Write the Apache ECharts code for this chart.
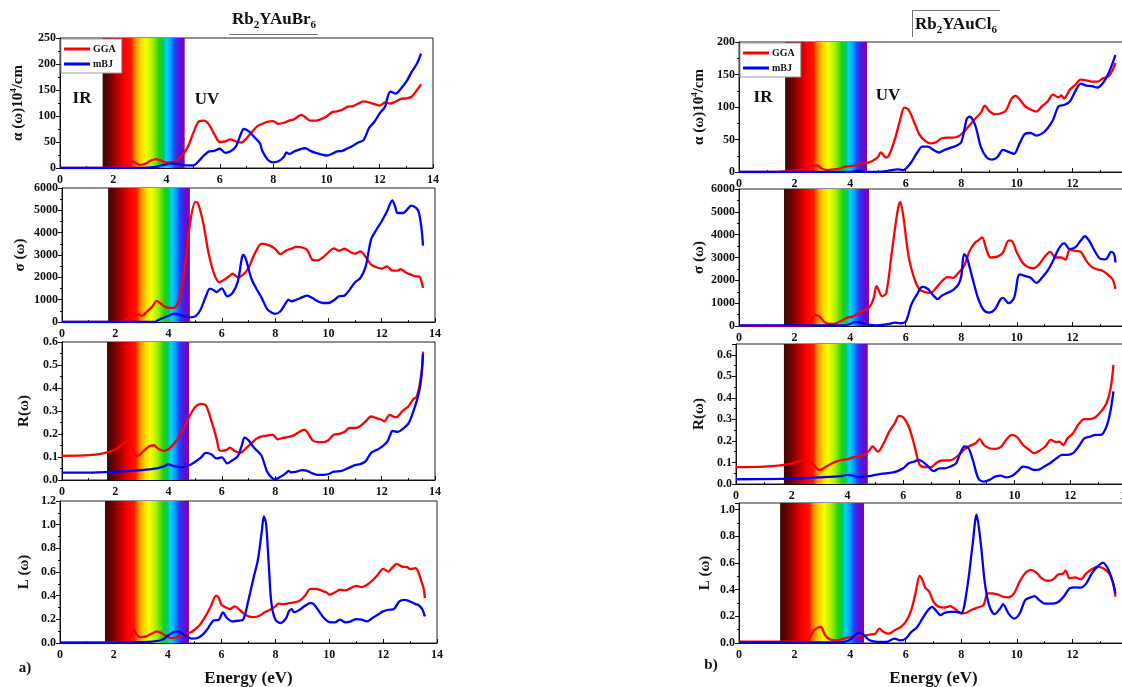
<!DOCTYPE html>
<html>
<head>
<meta charset="utf-8">
<title>Rb2YAuBr6 / Rb2YAuCl6 optical spectra</title>
<script src="https://cdn.jsdelivr.net/npm/echarts@6/dist/echarts.min.js"></script>
<style>
  html, body { margin: 0; padding: 0; background: #ffffff; }
  #chart { width: 1122px; height: 687px; }
</style>
</head>
<body>
<div id="chart"></div>
<script>
// ---------- Energy axis ticks (eV) ----------
const energyTicks = [0, 2, 4, 6, 8, 10, 12, 14];

// ---------- Rb2YAuBr6 : absorption α (10^4 /cm) ----------
const brAbsGGA = [[0,0],[1.6,0],[2.2,1],[2.5,6],[2.7,13],[3.0,6],[3.2,8],[3.4,14],[3.6,17],[3.8,14],[4.0,11],[4.2,11],[4.4,16],[4.6,25],[4.8,41],[5.0,67],[5.2,89],[5.4,91],[5.6,83],[5.8,64],[6.0,50],[6.2,51],[6.4,55],[6.6,51],[6.8,49],[7.0,57],[7.2,69],[7.4,80],[7.6,85],[7.8,89],[8.0,90],[8.2,85],[8.4,87],[8.6,91],[8.8,94],[9.05,102],[9.2,98],[9.4,91],[9.6,91],[9.8,94],[10.0,99],[10.2,107],[10.4,109],[10.6,112],[10.8,118],[11.0,119],[11.2,124],[11.4,128],[11.6,126],[11.8,123],[12.0,120],[12.2,126],[12.4,124],[12.6,128],[12.8,133],[13.0,134],[13.2,137],[13.4,150],[13.55,161]];
const brAbsMBJ = [[0,0],[3.0,0],[3.6,2],[3.8,5],[4.0,7],[4.2,9],[4.4,8],[4.6,6],[4.8,5],[5.0,5],[5.2,13],[5.4,24],[5.6,32],[5.8,33],[6.0,37],[6.2,29],[6.4,32],[6.6,41],[6.8,67],[6.9,75],[7.1,70],[7.3,59],[7.5,48],[7.6,32],[7.8,16],[8.0,11],[8.2,13],[8.4,21],[8.5,30],[8.6,27],[8.8,32],[9.0,36],[9.2,38],[9.4,33],[9.6,29],[9.8,26],[10.0,24],[10.2,27],[10.4,32],[10.6,33],[10.8,38],[11.0,43],[11.2,49],[11.4,54],[11.6,77],[11.8,89],[12.0,105],[12.2,118],[12.3,137],[12.4,147],[12.6,143],[12.8,153],[13.0,166],[13.2,185],[13.4,201],[13.55,220]];

// ---------- Rb2YAuBr6 : optical conductivity σ ----------
const brCondGGA = [[0,0],[1.7,0],[2.3,40],[2.7,300],[2.9,330],[3.0,280],[3.2,480],[3.4,700],[3.55,950],[3.8,730],[4.0,630],[4.2,630],[4.4,1000],[4.6,2340],[4.8,4360],[5.0,5370],[5.1,5330],[5.3,4430],[5.5,3090],[5.7,2190],[5.9,1780],[6.1,1900],[6.3,2070],[6.4,2160],[6.6,2010],[6.8,2120],[7.0,2420],[7.2,2970],[7.5,3510],[7.8,3420],[8.0,3270],[8.2,3040],[8.4,3190],[8.6,3280],[8.8,3360],[9.0,3340],[9.2,3240],[9.4,2790],[9.6,2760],[9.8,2900],[10.0,3120],[10.2,3300],[10.4,3190],[10.6,3280],[10.8,3150],[11.0,3060],[11.2,3160],[11.4,2910],[11.6,2570],[11.8,2450],[12.0,2390],[12.2,2490],[12.4,2300],[12.6,2300],[12.7,2370],[12.9,2220],[13.1,2120],[13.3,2040],[13.4,2040],[13.5,1790],[13.55,1520]];
const brCondMBJ = [[0,0],[3.5,0],[3.6,80],[3.8,180],[4.0,280],[4.2,370],[4.4,330],[4.6,250],[4.8,210],[5.0,250],[5.2,550],[5.4,1150],[5.55,1490],[5.7,1420],[5.8,1340],[6.0,1510],[6.2,1150],[6.4,1300],[6.6,1820],[6.75,2870],[6.8,3000],[6.9,2820],[7.1,1970],[7.3,1480],[7.5,1070],[7.7,580],[7.9,400],[8.0,360],[8.2,480],[8.4,850],[8.5,1000],[8.6,930],[8.8,1000],[9.0,1100],[9.2,1180],[9.4,1070],[9.6,930],[9.8,850],[10.0,850],[10.2,970],[10.4,1150],[10.6,1180],[10.8,1450],[11.0,1780],[11.2,1970],[11.4,2490],[11.6,3690],[11.8,4130],[12.0,4510],[12.2,4960],[12.4,5450],[12.5,5180],[12.6,4880],[12.8,4880],[13.0,5100],[13.1,5210],[13.3,5100],[13.4,4880],[13.5,4130],[13.55,3420]];

// ---------- Rb2YAuBr6 : reflectivity R ----------
const brReflGGA = [[0,0.105],[1.0,0.108],[1.5,0.115],[2.0,0.132],[2.3,0.158],[2.5,0.17],[2.7,0.12],[2.8,0.104],[2.9,0.108],[3.1,0.13],[3.3,0.148],[3.45,0.151],[3.6,0.137],[3.8,0.127],[4.0,0.134],[4.2,0.158],[4.4,0.187],[4.6,0.233],[4.8,0.28],[5.0,0.317],[5.2,0.331],[5.4,0.324],[5.6,0.259],[5.8,0.18],[5.9,0.13],[6.0,0.127],[6.2,0.132],[6.3,0.141],[6.5,0.125],[6.7,0.118],[6.9,0.137],[7.1,0.158],[7.3,0.18],[7.5,0.19],[7.7,0.193],[7.9,0.197],[8.1,0.177],[8.3,0.183],[8.5,0.187],[8.7,0.194],[8.9,0.209],[9.1,0.219],[9.2,0.209],[9.4,0.173],[9.6,0.165],[9.8,0.165],[10.0,0.173],[10.2,0.197],[10.4,0.201],[10.6,0.209],[10.8,0.226],[11.0,0.226],[11.2,0.235],[11.4,0.255],[11.6,0.276],[11.8,0.269],[12.0,0.262],[12.1,0.255],[12.3,0.283],[12.5,0.273],[12.6,0.276],[12.8,0.302],[13.0,0.32],[13.2,0.353],[13.3,0.36],[13.4,0.4],[13.5,0.475],[13.55,0.558]];
const brReflMBJ = [[0,0.032],[1.0,0.032],[2.0,0.036],[3.0,0.043],[3.5,0.049],[3.8,0.058],[4.0,0.068],[4.2,0.06],[4.5,0.055],[4.8,0.065],[5.0,0.079],[5.2,0.096],[5.4,0.118],[5.6,0.112],[5.8,0.094],[6.0,0.098],[6.2,0.072],[6.4,0.086],[6.6,0.104],[6.75,0.151],[6.85,0.184],[7.0,0.173],[7.2,0.141],[7.4,0.118],[7.5,0.104],[7.7,0.036],[7.9,0.007],[8.0,0.003],[8.2,0.014],[8.4,0.029],[8.5,0.04],[8.6,0.033],[8.8,0.036],[9.0,0.043],[9.2,0.04],[9.4,0.029],[9.6,0.022],[9.8,0.022],[10.0,0.026],[10.2,0.036],[10.5,0.04],[10.8,0.055],[11.0,0.065],[11.2,0.069],[11.4,0.082],[11.6,0.118],[11.8,0.13],[12.0,0.144],[12.2,0.165],[12.3,0.19],[12.4,0.213],[12.6,0.209],[12.8,0.223],[13.0,0.245],[13.2,0.302],[13.4,0.381],[13.5,0.46],[13.55,0.547]];

// ---------- Rb2YAuBr6 : energy loss L ----------
const brLossGGA = [[0,0.005],[1.6,0.005],[2.3,0.01],[2.6,0.05],[2.75,0.112],[2.85,0.07],[3.0,0.05],[3.2,0.056],[3.4,0.079],[3.6,0.098],[3.8,0.079],[4.0,0.05],[4.2,0.042],[4.4,0.056],[4.6,0.07],[4.8,0.084],[5.0,0.112],[5.2,0.155],[5.4,0.225],[5.6,0.309],[5.8,0.4],[5.9,0.38],[6.0,0.323],[6.2,0.295],[6.3,0.287],[6.5,0.309],[6.6,0.295],[6.8,0.253],[7.0,0.225],[7.2,0.219],[7.4,0.23],[7.6,0.259],[7.8,0.281],[8.0,0.309],[8.1,0.332],[8.3,0.329],[8.5,0.337],[8.7,0.343],[8.9,0.357],[9.1,0.4],[9.3,0.458],[9.5,0.458],[9.7,0.444],[9.9,0.427],[10.0,0.408],[10.2,0.427],[10.4,0.45],[10.6,0.444],[10.8,0.464],[11.0,0.483],[11.2,0.472],[11.4,0.492],[11.6,0.528],[11.8,0.576],[12.0,0.627],[12.2,0.604],[12.3,0.627],[12.5,0.669],[12.7,0.646],[12.9,0.641],[13.0,0.624],[13.2,0.632],[13.3,0.604],[13.4,0.534],[13.5,0.464],[13.55,0.379]];
const brLossMBJ = [[0,0],[2.0,0],[2.2,0.005],[3.0,0.008],[3.5,0.014],[3.8,0.028],[4.0,0.062],[4.2,0.09],[4.35,0.098],[4.5,0.084],[4.7,0.056],[4.9,0.037],[5.1,0.042],[5.3,0.07],[5.5,0.126],[5.7,0.191],[5.9,0.197],[6.05,0.259],[6.2,0.211],[6.4,0.183],[6.6,0.188],[6.8,0.197],[7.0,0.365],[7.2,0.562],[7.35,0.703],[7.5,0.956],[7.57,1.07],[7.65,1.012],[7.75,0.675],[7.85,0.337],[8.0,0.197],[8.2,0.169],[8.4,0.211],[8.5,0.267],[8.6,0.287],[8.7,0.259],[8.9,0.281],[9.1,0.315],[9.3,0.337],[9.4,0.332],[9.6,0.275],[9.8,0.211],[10.0,0.177],[10.2,0.174],[10.4,0.197],[10.6,0.174],[10.8,0.183],[11.0,0.202],[11.2,0.197],[11.4,0.183],[11.6,0.211],[11.8,0.239],[12.0,0.267],[12.2,0.281],[12.4,0.287],[12.6,0.351],[12.8,0.365],[13.0,0.351],[13.2,0.329],[13.3,0.323],[13.45,0.287],[13.55,0.225]];

// ---------- Rb2YAuCl6 : absorption α (10^4 /cm) ----------
const clAbsGGA = [[0,0],[1.2,0],[1.6,1],[2.2,3],[2.6,10],[2.8,10],[3.0,5],[3.2,3],[3.4,4],[3.6,5],[3.8,8],[4.0,9],[4.2,10],[4.4,13],[4.6,14],[4.8,17],[5.0,23],[5.1,30],[5.3,22],[5.4,26],[5.6,49],[5.8,80],[5.95,99],[6.1,96],[6.3,77],[6.5,57],[6.7,48],[6.9,44],[7.1,46],[7.3,52],[7.5,53],[7.7,53],[7.9,55],[8.1,62],[8.3,72],[8.5,82],[8.7,91],[8.85,102],[9.0,94],[9.2,89],[9.4,90],[9.6,94],[9.8,112],[9.95,117],[10.1,112],[10.3,101],[10.5,96],[10.7,93],[10.9,101],[11.1,108],[11.3,119],[11.5,115],[11.6,118],[11.7,113],[11.9,126],[12.1,134],[12.3,142],[12.5,141],[12.7,139],[12.9,139],[13.1,144],[13.3,147],[13.45,157],[13.55,168]];
const clAbsMBJ = [[0,0],[4.0,0],[4.3,2],[4.6,0],[5.0,0],[5.5,3],[5.7,4],[5.9,3],[6.0,5],[6.2,15],[6.4,29],[6.6,39],[6.8,39],[7.0,34],[7.2,30],[7.4,34],[7.6,37],[7.8,40],[8.0,46],[8.2,82],[8.3,85],[8.5,72],[8.7,39],[8.9,23],[9.1,19],[9.3,23],[9.5,34],[9.7,31],[9.9,28],[10.1,44],[10.3,59],[10.5,60],[10.7,56],[10.9,59],[11.1,67],[11.3,80],[11.5,101],[11.7,103],[11.9,108],[12.1,124],[12.3,136],[12.5,133],[12.7,132],[12.9,130],[13.1,137],[13.3,152],[13.45,168],[13.55,180]];

// ---------- Rb2YAuCl6 : optical conductivity σ ----------
const clCondGGA = [[0,0],[2.4,0],[2.6,300],[2.75,490],[2.9,410],[3.1,150],[3.3,90],[3.5,120],[3.7,240],[3.9,370],[4.1,410],[4.3,560],[4.5,680],[4.7,830],[4.85,1230],[4.95,1740],[5.15,1300],[5.3,1450],[5.5,3220],[5.7,4990],[5.8,5440],[5.9,4920],[6.1,3070],[6.3,2110],[6.5,1600],[6.7,1480],[6.9,1450],[7.1,1670],[7.3,1960],[7.5,2140],[7.7,2110],[7.9,2330],[8.1,2630],[8.3,3290],[8.5,3660],[8.6,3740],[8.75,3880],[8.9,3370],[9.05,3000],[9.3,3040],[9.5,3220],[9.7,3740],[9.8,3740],[10.0,3220],[10.2,2780],[10.4,2580],[10.6,2530],[10.8,2700],[11.0,3030],[11.2,3250],[11.4,3000],[11.6,3000],[11.75,2900],[11.9,3340],[12.1,3290],[12.3,3250],[12.5,2850],[12.7,2580],[12.9,2480],[13.1,2410],[13.3,2220],[13.45,2040],[13.55,1620]];
const clCondMBJ = [[0,30],[3.8,30],[4.0,90],[4.2,180],[4.4,150],[4.6,70],[5.0,30],[5.4,90],[5.6,150],[5.8,120],[6.0,190],[6.2,930],[6.4,1370],[6.6,1710],[6.8,1620],[7.0,1330],[7.15,1180],[7.3,1330],[7.5,1450],[7.7,1570],[7.9,1820],[8.0,2190],[8.1,3150],[8.2,3000],[8.4,2110],[8.6,1230],[8.8,710],[9.0,590],[9.2,710],[9.4,1150],[9.5,1230],[9.7,1000],[9.9,1230],[10.1,2260],[10.3,2190],[10.5,2110],[10.7,1890],[10.9,2110],[11.1,2410],[11.3,2850],[11.5,3370],[11.7,3630],[11.9,3370],[12.1,3440],[12.3,3740],[12.45,3930],[12.6,3740],[12.8,3290],[13.0,2950],[13.2,2920],[13.4,3250],[13.5,3150],[13.55,2780]];

// ---------- Rb2YAuCl6 : reflectivity R ----------
const clReflGGA = [[0,0.078],[1.0,0.081],[1.5,0.085],[2.0,0.096],[2.5,0.112],[2.7,0.1],[3.0,0.065],[3.2,0.078],[3.5,0.099],[3.8,0.112],[4.0,0.115],[4.2,0.124],[4.4,0.13],[4.6,0.135],[4.8,0.158],[4.9,0.174],[5.1,0.15],[5.3,0.189],[5.5,0.243],[5.7,0.282],[5.85,0.316],[6.0,0.31],[6.2,0.267],[6.4,0.181],[6.5,0.127],[6.6,0.088],[6.8,0.078],[7.0,0.078],[7.2,0.099],[7.4,0.109],[7.6,0.109],[7.8,0.115],[8.0,0.135],[8.2,0.161],[8.4,0.177],[8.6,0.189],[8.75,0.208],[8.9,0.181],[9.1,0.166],[9.3,0.163],[9.5,0.171],[9.7,0.205],[9.9,0.228],[10.1,0.217],[10.3,0.181],[10.5,0.161],[10.7,0.143],[10.9,0.155],[11.1,0.174],[11.3,0.205],[11.5,0.194],[11.6,0.197],[11.75,0.181],[11.9,0.212],[12.1,0.236],[12.3,0.278],[12.5,0.301],[12.7,0.301],[12.9,0.31],[13.1,0.336],[13.3,0.375],[13.45,0.445],[13.55,0.553]];
const clReflMBJ = [[0,0.022],[2.0,0.025],[3.0,0.031],[3.8,0.037],[4.0,0.042],[4.2,0.039],[4.4,0.031],[4.8,0.037],[5.2,0.047],[5.6,0.053],[5.8,0.06],[6.0,0.073],[6.2,0.096],[6.4,0.104],[6.55,0.112],[6.7,0.104],[6.9,0.081],[7.1,0.06],[7.3,0.073],[7.5,0.073],[7.7,0.081],[7.9,0.096],[8.05,0.143],[8.2,0.174],[8.35,0.166],[8.5,0.112],[8.7,0.026],[8.9,0.011],[9.1,0.019],[9.3,0.034],[9.5,0.039],[9.7,0.031],[9.9,0.037],[10.1,0.057],[10.3,0.081],[10.5,0.076],[10.7,0.065],[10.9,0.068],[11.1,0.084],[11.3,0.099],[11.5,0.119],[11.7,0.135],[11.9,0.135],[12.1,0.143],[12.3,0.174],[12.5,0.212],[12.7,0.22],[12.9,0.228],[13.1,0.228],[13.3,0.267],[13.45,0.344],[13.55,0.43]];

// ---------- Rb2YAuCl6 : energy loss L ----------
const clLossGGA = [[0,0.01],[2.4,0.01],[2.6,0.06],[2.7,0.095],[2.85,0.116],[2.95,0.12],[3.1,0.058],[3.3,0.025],[3.5,0.02],[3.7,0.028],[3.9,0.04],[4.1,0.045],[4.3,0.058],[4.5,0.053],[4.7,0.063],[4.9,0.07],[5.05,0.108],[5.2,0.083],[5.4,0.07],[5.6,0.095],[5.8,0.116],[6.0,0.158],[6.2,0.246],[6.35,0.372],[6.5,0.503],[6.6,0.472],[6.7,0.415],[6.85,0.384],[7.0,0.309],[7.2,0.271],[7.4,0.266],[7.6,0.276],[7.8,0.251],[8.0,0.221],[8.2,0.229],[8.4,0.251],[8.6,0.266],[8.8,0.284],[8.95,0.372],[9.1,0.372],[9.3,0.364],[9.5,0.347],[9.7,0.342],[9.9,0.372],[10.1,0.46],[10.3,0.523],[10.5,0.548],[10.7,0.528],[10.9,0.485],[11.1,0.467],[11.3,0.477],[11.5,0.515],[11.65,0.518],[11.75,0.543],[11.9,0.485],[12.1,0.492],[12.3,0.477],[12.5,0.523],[12.7,0.553],[12.9,0.573],[13.1,0.56],[13.3,0.528],[13.45,0.46],[13.55,0.347]];
const clLossMBJ = [[0,0.005],[3.6,0.005],[3.8,0.008],[4.0,0.025],[4.2,0.065],[4.35,0.075],[4.5,0.058],[4.7,0.02],[5.0,0.008],[5.3,0.008],[5.6,0.033],[5.8,0.02],[6.0,0.033],[6.2,0.083],[6.4,0.116],[6.6,0.183],[6.8,0.246],[6.95,0.271],[7.1,0.241],[7.25,0.209],[7.4,0.226],[7.6,0.234],[7.8,0.234],[8.0,0.226],[8.2,0.397],[8.4,0.724],[8.55,0.962],[8.7,0.749],[8.85,0.447],[9.0,0.284],[9.2,0.216],[9.4,0.259],[9.5,0.291],[9.7,0.221],[9.9,0.183],[10.1,0.221],[10.3,0.322],[10.5,0.342],[10.65,0.352],[10.8,0.322],[11.0,0.296],[11.3,0.296],[11.5,0.309],[11.7,0.352],[11.9,0.41],[12.1,0.417],[12.3,0.415],[12.5,0.447],[12.7,0.523],[12.9,0.573],[13.1,0.603],[13.3,0.548],[13.45,0.46],[13.55,0.372]];

// ---------- visible-light window (eV) drawn in each panel ----------
const visibleBandBr = [[1.6, 4.68], [1.73, 4.8], [1.69, 4.77], [1.67, 4.79]];
const visibleBandCl = [[1.66, 4.61], [1.62, 4.68], [1.72, 4.73], [1.48, 4.5]];

// ---------- y-axis ranges and names ----------
const yMaxBr = [250, 6000, 0.6, 1.2];
const yStepBr = [50, 1000, 0.1, 0.2];
const yMaxCl = [200, 6000, 0.65, 1.05];
const yStepCl = [50, 1000, 0.1, 0.2];
const yDecimals = [0, 0, 1, 1];
const yNames = ['{a|α (ω)10}{p|4}{a|/cm}', 'σ (ω)', 'R(ω)', 'L (ω)'];

const seriesNames = ['GGA', 'mBJ'];
const seriesColors = ['#ff0000', '#0000ff'];

// ---------- drawing ----------
const SERIF = '"Liberation Serif", "Times New Roman", "DejaVu Serif", serif';
const chart = echarts.init(document.getElementById('chart'), null, { renderer: 'canvas' });

const spectrumGradient = () => new echarts.graphic.LinearGradient(0, 0, 1, 0, [
  { offset: 0.00, color: '#3a0808' },
  { offset: 0.08, color: '#6a0202' },
  { offset: 0.19, color: '#c00000' },
  { offset: 0.27, color: '#ff0000' },
  { offset: 0.35, color: '#ff1800' },
  { offset: 0.40, color: '#ff8c00' },
  { offset: 0.47, color: '#ffdc00' },
  { offset: 0.53, color: '#f4ff00' },
  { offset: 0.61, color: '#a8f000' },
  { offset: 0.69, color: '#22d400' },
  { offset: 0.74, color: '#00cc66' },
  { offset: 0.78, color: '#00d4ff' },
  { offset: 0.83, color: '#00a0ff' },
  { offset: 0.88, color: '#2244ff' },
  { offset: 0.93, color: '#5514e0' },
  { offset: 1.00, color: '#7c00b8' }
]);

// plot rectangles: [left, top, width, height]
const rectsBr = [[60, 38, 373, 130], [62, 188, 373, 134], [62, 342, 373, 138], [60, 501, 377, 142]];
const rectsCl = [[739, 42, 389, 130], [739, 189, 389, 137], [736, 344, 390, 140], [739, 503, 389, 140]];
const nameGapsBr = [33, 34, 30, 28];
const nameGapsCl = [31, 31, 29, 26];

const panels = [
  { rect: rectsBr[0], data: [brAbsGGA, brAbsMBJ], band: visibleBandBr[0], yMax: yMaxBr[0], yStep: yStepBr[0], k: 0, gap: nameGapsBr[0] },
  { rect: rectsBr[1], data: [brCondGGA, brCondMBJ], band: visibleBandBr[1], yMax: yMaxBr[1], yStep: yStepBr[1], k: 1, gap: nameGapsBr[1] },
  { rect: rectsBr[2], data: [brReflGGA, brReflMBJ], band: visibleBandBr[2], yMax: yMaxBr[2], yStep: yStepBr[2], k: 2, gap: nameGapsBr[2] },
  { rect: rectsBr[3], data: [brLossGGA, brLossMBJ], band: visibleBandBr[3], yMax: yMaxBr[3], yStep: yStepBr[3], k: 3, gap: nameGapsBr[3], xName: true },
  { rect: rectsCl[0], data: [clAbsGGA, clAbsMBJ], band: visibleBandCl[0], yMax: yMaxCl[0], yStep: yStepCl[0], k: 0, gap: nameGapsCl[0] },
  { rect: rectsCl[1], data: [clCondGGA, clCondMBJ], band: visibleBandCl[1], yMax: yMaxCl[1], yStep: yStepCl[1], k: 1, gap: nameGapsCl[1] },
  { rect: rectsCl[2], data: [clReflGGA, clReflMBJ], band: visibleBandCl[2], yMax: yMaxCl[2], yStep: yStepCl[2], k: 2, gap: nameGapsCl[2] },
  { rect: rectsCl[3], data: [clLossGGA, clLossMBJ], band: visibleBandCl[3], yMax: yMaxCl[3], yStep: yStepCl[3], k: 3, gap: nameGapsCl[3], xName: true }
];

const labelFont = { color: '#111', fontFamily: SERIF, fontWeight: 'bold', fontSize: 12 };
const isWholeSteps = (max, step) => Math.abs(max / step - Math.round(max / step)) < 1e-6;

const grid = [], xAxis = [], yAxis = [], series = [];
panels.forEach((p, i) => {
  grid.push({
    left: p.rect[0], top: p.rect[1], width: p.rect[2], height: p.rect[3],
    outerBoundsMode: 'none', containLabel: false,
    show: true, borderColor: '#222', borderWidth: 1, backgroundColor: 'transparent'
  });
  xAxis.push({
    gridIndex: i, type: 'value',
    min: energyTicks[0], max: energyTicks[energyTicks.length - 1], interval: energyTicks[1] - energyTicks[0],
    axisLine: { lineStyle: { color: '#111', width: 1 } },
    axisTick: { inside: true, length: 4, lineStyle: { color: '#111' } },
    minorTick: { show: true, splitNumber: 2, length: 2, lineStyle: { color: '#111' } },
    splitLine: { show: false },
    axisLabel: Object.assign({ margin: 6, hideOverlap: false }, labelFont),
    name: p.xName ? 'Energy (eV)' : '',
    nameLocation: 'middle', nameGap: 27,
    nameTextStyle: { color: '#111', fontFamily: SERIF, fontWeight: 'bold', fontSize: 17 }
  });
  yAxis.push({
    gridIndex: i, type: 'value', min: 0, max: p.yMax, interval: p.yStep,
    axisLine: { show: true, lineStyle: { color: '#111', width: 1 } },
    axisTick: { show: true, inside: false, length: 4, lineStyle: { color: '#111' } },
    minorTick: { show: true, splitNumber: 2, length: 2, lineStyle: { color: '#111' } },
    splitLine: { show: false },
    axisLabel: Object.assign({
      margin: 4, showMaxLabel: isWholeSteps(p.yMax, p.yStep),
      formatter: v => v.toFixed(yDecimals[p.k])
    }, labelFont),
    name: yNames[p.k], nameLocation: 'middle', nameRotate: 90, nameGap: p.gap,
    nameTextStyle: {
      color: '#111', fontFamily: SERIF, fontWeight: 'bold', fontSize: 15,
      rich: {
        a: { fontFamily: SERIF, fontWeight: 'bold', fontSize: 15, color: '#111', lineHeight: 18 },
        p: { fontFamily: SERIF, fontWeight: 'bold', fontSize: 9, color: '#111', lineHeight: 18, verticalAlign: 'top' }
      }
    }
  });
  p.data.forEach((d, j) => {
    const s = {
      name: seriesNames[j], type: 'line', xAxisIndex: i, yAxisIndex: i,
      data: d, smooth: 0.3, showSymbol: false, symbol: 'none',
      lineStyle: { color: seriesColors[j], width: 2.3 },
      itemStyle: { color: seriesColors[j] },
      z: 3, silent: true, animation: false
    };
    if (j === 0) {
      s.markArea = {
        silent: true, z: 1,
        itemStyle: { color: spectrumGradient(), opacity: 1, borderWidth: 0 },
        label: { show: false },
        emphasis: { disabled: true },
        data: [[{ xAxis: p.band[0] }, { xAxis: p.band[1] }]]
      };
    }
    series.push(s);
  });
});

const legendCommon = {
  orient: 'vertical', icon: 'rect', itemWidth: 26, itemHeight: 3, itemGap: 5,
  data: seriesNames, selectedMode: false, z: 20,
  backgroundColor: '#ffffff', borderColor: '#9a9a9a', borderWidth: 1,
  textStyle: { color: '#111', fontFamily: SERIF, fontWeight: 'bold', fontSize: 10, padding: [0, 0, 0, -2] }
};

const titleRich = {
  m: { fontFamily: SERIF, fontWeight: 'bold', fontSize: 17, fill: '#111', lineHeight: 22, verticalAlign: 'middle' },
  s: { fontFamily: SERIF, fontWeight: 'bold', fontSize: 11, fill: '#111', lineHeight: 22, verticalAlign: 'bottom' }
};
const bigText = (txt, x, y) => ({
  type: 'text', x: x, y: y,
  style: { text: txt, fill: '#111', font: 'bold 17px ' + SERIF, align: 'center', verticalAlign: 'middle' }
});

chart.setOption({
  animation: false,
  backgroundColor: '#ffffff',
  grid, xAxis, yAxis, series,
  legend: [
    Object.assign({ left: 61, top: 39, padding: [5, 6, 4, 3] }, legendCommon),
    Object.assign({ left: 740, top: 43, padding: [5, 6, 4, 3] }, legendCommon)
  ],
  graphic: [
    { type: 'text', x: 274, y: 9, style: { text: '{m|Rb}{s|2}{m|YAuBr}{s|6}', rich: titleRich, align: 'center', verticalAlign: 'top' } },
    { type: 'line', shape: { x1: 229, y1: 34.5, x2: 318, y2: 34.5 }, style: { stroke: '#777', lineWidth: 1 } },
    { type: 'text', x: 956, y: 14, style: { text: '{m|Rb}{s|2}{m|YAuCl}{s|6}', rich: titleRich, align: 'center', verticalAlign: 'top' } },
    { type: 'line', shape: { x1: 912.5, y1: 10, x2: 912.5, y2: 37 }, style: { stroke: '#777', lineWidth: 1 } },
    { type: 'line', shape: { x1: 912, y1: 10.5, x2: 1000, y2: 10.5 }, style: { stroke: '#777', lineWidth: 1 } },
    bigText('IR', 82, 99),
    bigText('UV', 207, 100),
    bigText('IR', 763, 98),
    bigText('UV', 888, 96),
    { type: 'text', x: 25, y: 668, style: { text: 'a)', fill: '#111', font: 'bold 15px ' + SERIF, align: 'center', verticalAlign: 'middle' } },
    { type: 'text', x: 711, y: 665, style: { text: 'b)', fill: '#111', font: 'bold 15px ' + SERIF, align: 'center', verticalAlign: 'middle' } }
  ]
});
</script>
</body>
</html>
